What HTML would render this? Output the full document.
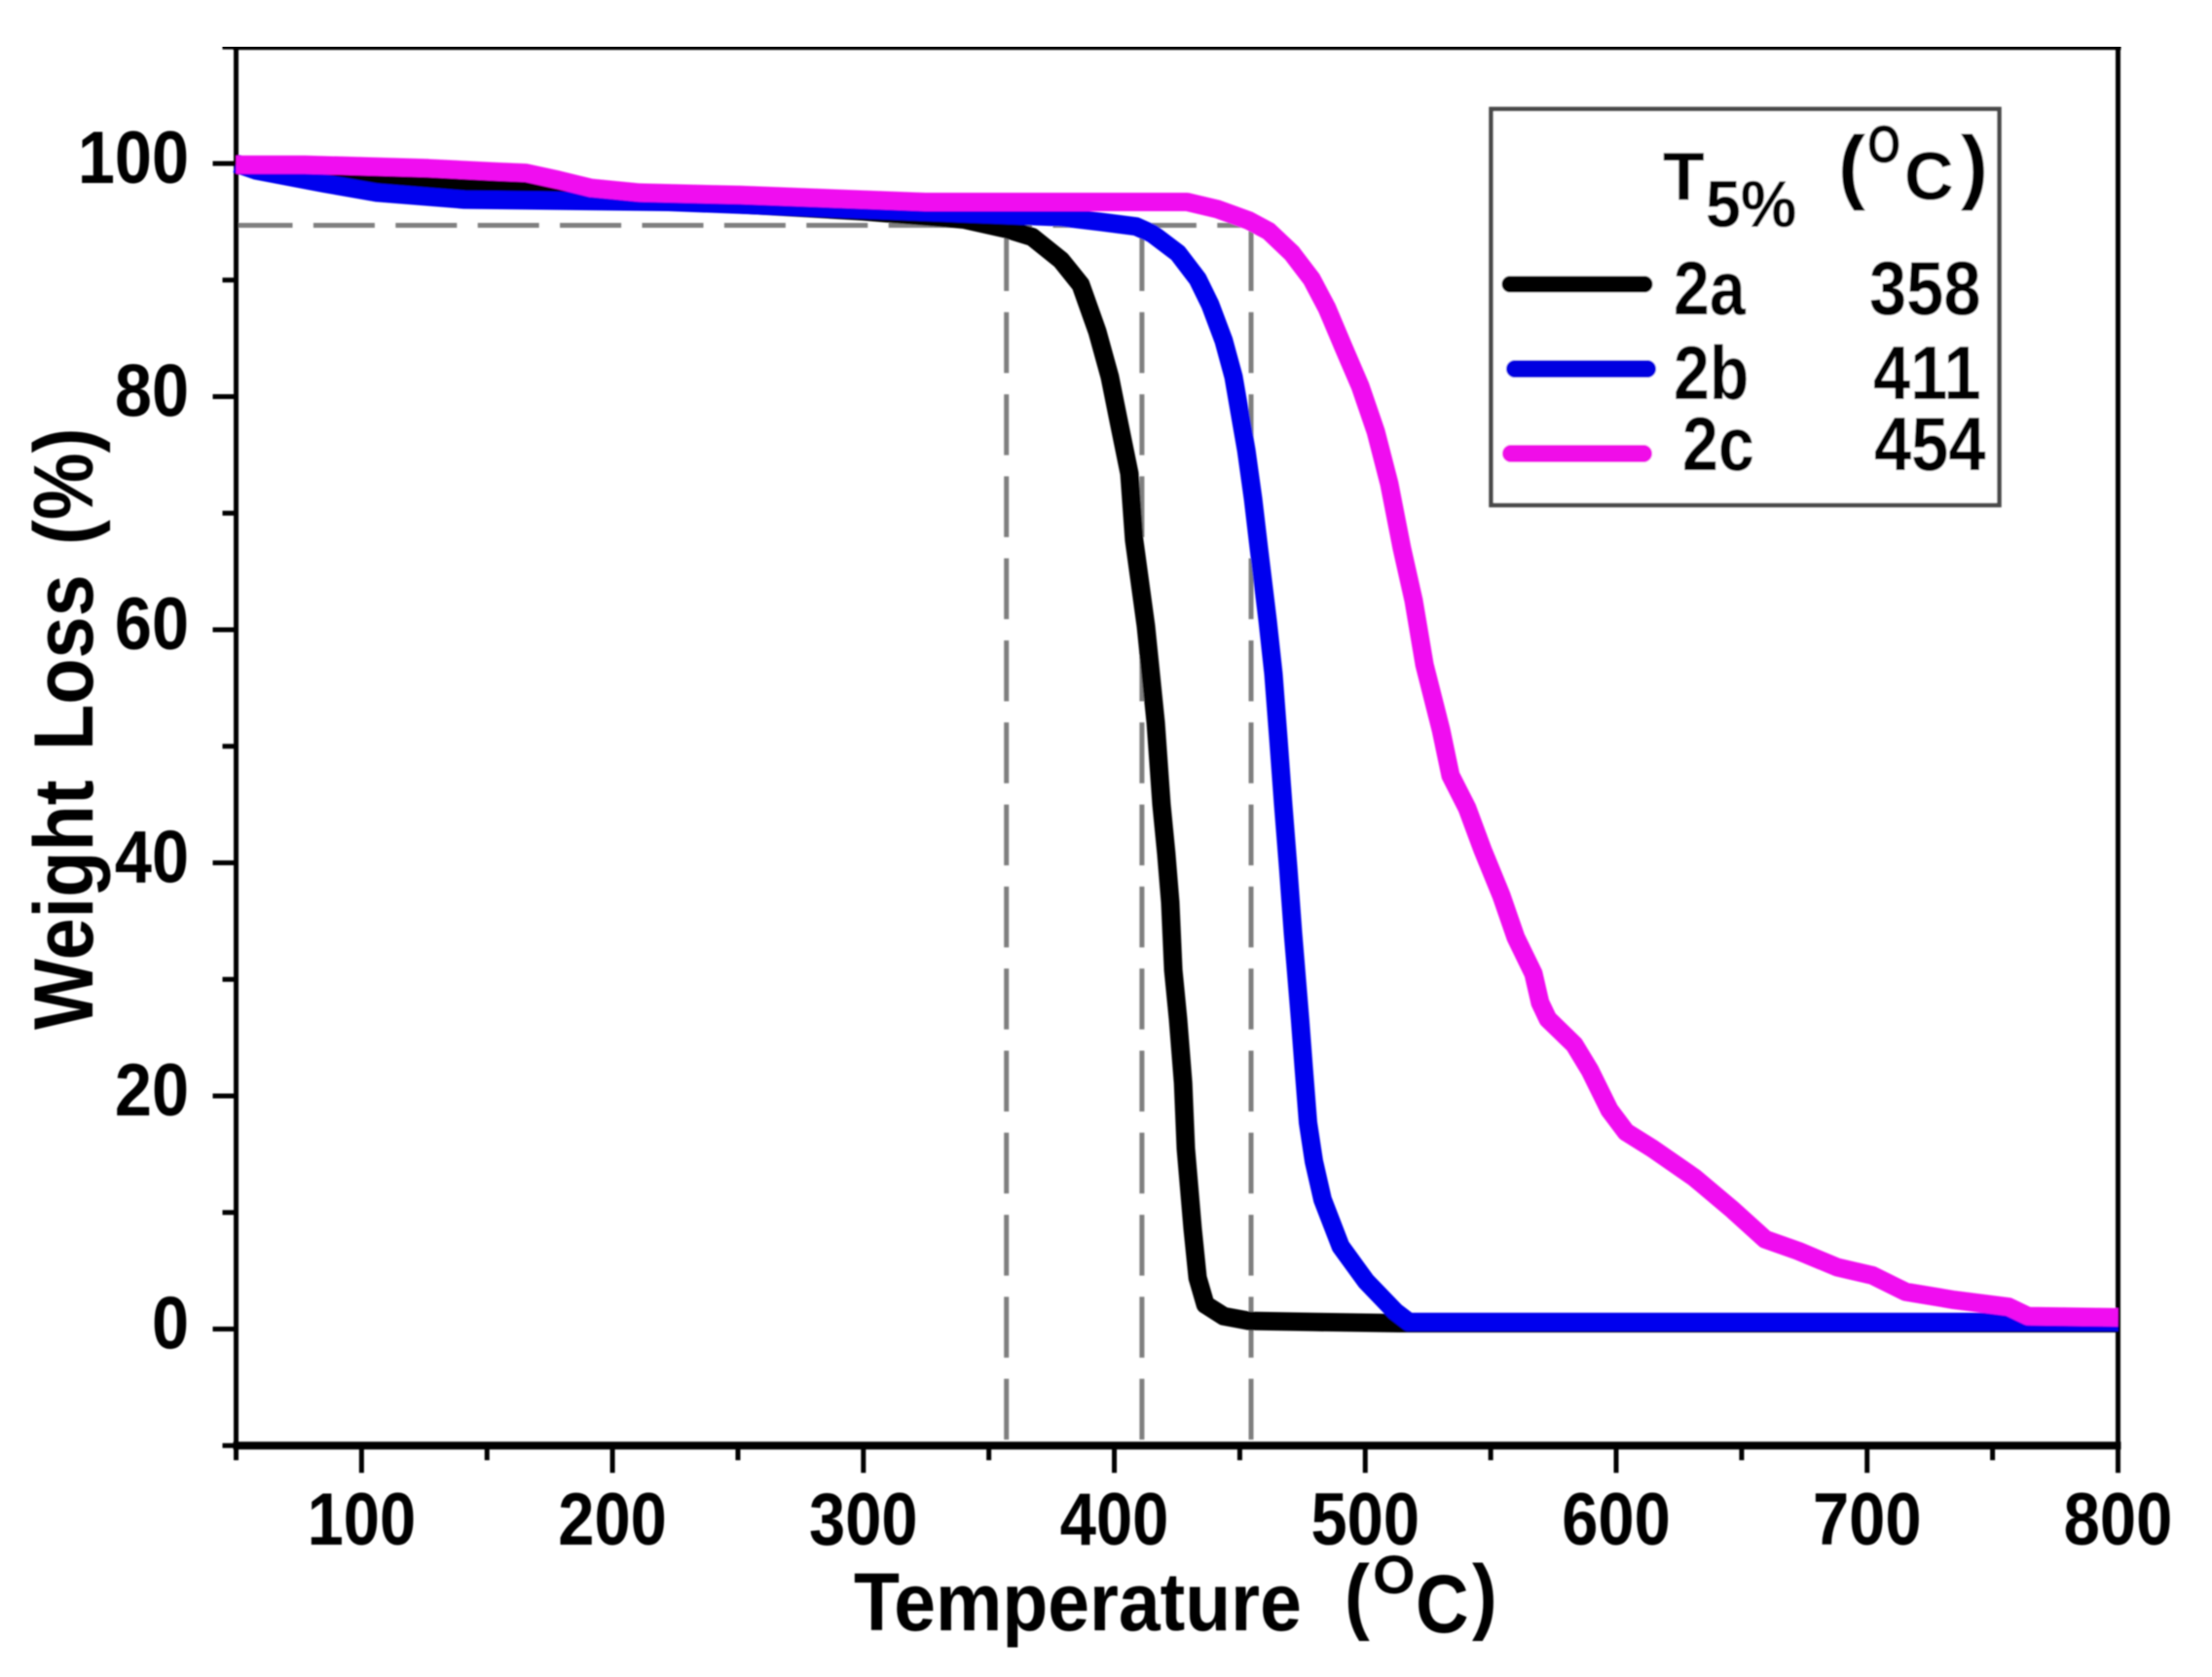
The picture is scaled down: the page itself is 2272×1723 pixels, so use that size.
<!DOCTYPE html>
<html lang="en">
<head>
<meta charset="utf-8">
<title>TGA weight loss chart</title>
<style>
html,body{margin:0;padding:0;background:#fff;width:2272px;height:1723px;overflow:hidden}
svg{display:block}
text{font-family:"Liberation Sans",sans-serif;font-weight:bold;fill:#000}
</style>
</head>
<body>
<svg id="chart" xmlns="http://www.w3.org/2000/svg" width="2272" height="1723" viewBox="0 0 2272 1723">
<defs><filter id="soft" x="0" y="0" width="100%" height="100%"><feGaussianBlur stdDeviation="0.8"/></filter></defs>
<rect width="2272" height="1723" fill="#fff"/>
<g id="root" filter="url(#soft)">
<g id="guides"></g>
<g id="axes"></g>
<g id="guidesOver"></g>
<g id="series"></g>
<g id="ticks"></g>

<text font-size="86" word-spacing="10" transform="translate(95,1058) rotate(-90) scale(.9,1)">Weight Loss (%)</text>

<g>
<text font-size="84" transform="translate(877,1675) scale(.915,1)">Temperature</text>
<text font-size="86" transform="translate(1381,1668) scale(.9,1)">(</text>
<text font-size="56" transform="translate(1410,1637)">O</text>
<text font-size="84" transform="translate(1454,1677) scale(.9,1)">C</text>
<text font-size="86" transform="translate(1512,1668) scale(.9,1)">)</text>
</g>

<g>
<rect x="1531.5" y="112" width="522" height="407" fill="#fff" stroke="#484848" stroke-width="4.5"/>
<text font-size="70" x="1708" y="205">T</text>
<text font-size="68" transform="translate(1752,233) scale(.95,1)">5%</text>
<text font-size="84" x="1888" y="199">(</text>
<text font-size="55" transform="translate(1918,167) scale(.8,1)">O</text>
<text font-size="70" x="1956" y="205">C</text>
<text font-size="84" x="2014" y="199">)</text>

<line x1="1551" y1="292" x2="1689" y2="292" stroke="#000" stroke-width="17" stroke-linecap="round"/>
<text font-size="78" transform="translate(1719,323) scale(.85,1)">2a</text>
<text font-size="78" transform="translate(1920,323) scale(.88,1)">358</text>

<line x1="1556" y1="379" x2="1692" y2="379" stroke="#0000e0" stroke-width="18" stroke-linecap="round"/>
<text font-size="78" transform="translate(1719,410) scale(.85,1)">2b</text>
<text font-size="78" transform="translate(1924,410) scale(.88,1)">411</text>

<line x1="1552" y1="466" x2="1688" y2="466" stroke="#f010e8" stroke-width="18" stroke-linecap="round"/>
<text font-size="78" transform="translate(1728,483) scale(.85,1)">2c</text>
<text font-size="78" transform="translate(1925,483) scale(.88,1)">454</text>
</g>
</g>
</svg>
<script>
var NS = 'http://www.w3.org/2000/svg';

var xMajorTicks = [100, 200, 300, 400, 500, 600, 700, 800];
var xMinorTicks = [50, 150, 250, 350, 450, 550, 650, 750];
var yMajorTicks = [0, 20, 40, 60, 80, 100];
var yMinorTicks = [-10, 10, 30, 50, 70, 90, 110];

var t5Temps = [357, 411, 454.5];
var t5Weight = 94.7;

var temp2a = [50, 100, 150, 200, 250, 300, 340, 356.7, 367.2, 378.8, 386.6, 393.2, 398.2, 402.1, 406, 407.9, 412.6, 416.5, 418.8, 420.7, 422.3, 423.5, 425.4, 427.4, 428.5, 431.2, 433.2, 436.3, 443.6, 453.7, 479.7, 513.5, 800];
var weight2a = [99.9, 98.6, 98.2, 97, 96.5, 95.9, 95.2, 94.4, 93.7, 91.7, 89.6, 85.6, 81.7, 77.5, 73.4, 67.7, 60.3, 52, 45, 40.8, 36.6, 30.8, 26.6, 21.1, 15.5, 8.6, 4.4, 2.1, 1.1, 0.7, 0.6, 0.5, 0.5];

var temp2b = [50, 58, 85, 106, 141, 222.5, 378.8, 394.4, 408.7, 415, 425.4, 433.2, 438.2, 443.6, 447.5, 449.9, 452.6, 455.3, 457.6, 461.1, 463.4, 465.4, 467.3, 469.3, 471.2, 472.2, 474, 475.5, 477.2, 479.5, 483, 490.2, 500.3, 511.9, 517.4, 800];
var weight2b = [100, 99.4, 98.3, 97.5, 96.9, 96.7, 95.4, 95, 94.6, 94, 92.3, 90.1, 87.9, 84.8, 81.7, 78.7, 75.4, 71.2, 67, 60.8, 56.2, 50.6, 45, 39.5, 33.9, 31.4, 26.6, 22.4, 17.7, 14.4, 11.1, 7.1, 4.1, 1.5, 0.6, 0.6];

var temp2c = [50, 77.4, 126.6, 153.8, 165.5, 178.3, 191.5, 210.9, 250.8, 324.5, 429, 440.9, 453.7, 461.5, 470.8, 478.6, 484.7, 491.4, 498, 504.2, 509.6, 514.6, 519.3, 523.6, 530.2, 534, 540.6, 546.8, 554.2, 560, 567, 569.7, 572.8, 583.3, 589.5, 597.3, 603.9, 614.4, 631.1, 646.6, 659.4, 672.6, 688.1, 702.1, 715.3, 734.7, 756.4, 764.2, 800];
var weight2c = [99.9, 99.9, 99.6, 99.3, 99.2, 98.6, 97.9, 97.5, 97.3, 96.7, 96.7, 96.1, 95.1, 94.2, 92.3, 90.1, 87.6, 84.2, 80.9, 77, 72.5, 67, 62.5, 57, 51.4, 47.5, 44.7, 41.1, 37.2, 33.6, 30.5, 28, 26.6, 24.4, 22.2, 18.8, 16.9, 15.5, 13, 10.2, 7.7, 6.7, 5.3, 4.6, 3.2, 2.5, 1.9, 1.1, 1];

function xScale(t) { return 242.5 + (t - 50) * 2.5773; }
function yScale(v) { return 1365.5 - v * 11.975; }

function make(tag, attrs, parent) {
  var el = document.createElementNS(NS, tag);
  for (var k in attrs) el.setAttribute(k, attrs[k]);
  parent.appendChild(el);
  return el;
}

var axes = document.getElementById('axes');
var ticks = document.getElementById('ticks');
var guides = document.getElementById('guides');
var guidesOver = document.getElementById('guidesOver');
var series = document.getElementById('series');

var L = xScale(50), R = xScale(800), T = yScale(110), B = yScale(-10);

var spineTop = make('line', {x1: L - 3, y1: T, x2: R + 3, y2: T, stroke: '#000', 'stroke-width': 6}, axes);


var spineBottom = make('line', {x1: L - 3, y1: B, x2: R + 3, y2: B, stroke: '#000', 'stroke-width': 8}, axes);


var spineLeft = make('line', {x1: L, y1: T, x2: L, y2: B, stroke: '#000', 'stroke-width': 5}, axes);


var spineRight = make('line', {x1: R, y1: T, x2: R, y2: B, stroke: '#000', 'stroke-width': 5}, axes);



xMajorTicks.forEach(function (t) {
  var tick = make('line', {x1: xScale(t), y1: B, x2: xScale(t), y2: B + 28, stroke: '#000', 'stroke-width': 5}, axes);
  
  
  var label = make('text', {'font-size': 76, 'text-anchor': 'middle', transform: 'translate(' + xScale(t) + ',1587) scale(.88,1)'}, ticks);
  label.textContent = String(t);
  
  
});
xMinorTicks.forEach(function (t) {
  var tick = make('line', {x1: xScale(t), y1: B, x2: xScale(t), y2: B + 15, stroke: '#000', 'stroke-width': 5}, axes);
  
  
});
yMajorTicks.forEach(function (v) {
  var tick = make('line', {x1: L - 24, y1: yScale(v), x2: L, y2: yScale(v), stroke: '#000', 'stroke-width': 5}, axes);
  
  
  var label = make('text', {'font-size': 76, 'text-anchor': 'end', transform: 'translate(194,' + (yScale(v) + 20) + ') scale(.9,1)'}, ticks);
  label.textContent = String(v);
  
  
});
yMinorTicks.forEach(function (v) {
  var tick = make('line', {x1: L - 14, y1: yScale(v), x2: L, y2: yScale(v), stroke: '#000', 'stroke-width': 5}, axes);
  
  
});

var hGuide = make('line', {x1: L, y1: yScale(t5Weight), x2: xScale(t5Temps[2]), y2: yScale(t5Weight), stroke: '#7f7f7f', 'stroke-width': 5, 'stroke-dasharray': '63 21.4', 'stroke-dashoffset': 5}, guides);


t5Temps.forEach(function (t) {
  var v = make('line', {x1: xScale(t), y1: yScale(t5Weight), x2: xScale(t), y2: B, stroke: '#7f7f7f', 'stroke-width': 5, 'stroke-dasharray': '62.5 21.8', 'stroke-dashoffset': -5}, guidesOver);
  
  
});

function linePath(ts, vs) {
  return ts.map(function (t, i) {
    return (i ? 'L' : 'M') + xScale(t).toFixed(1) + ' ' + yScale(vs[i]).toFixed(1);
  }).join(' ');
}
var curve2a = make('path', {d: linePath(temp2a, weight2a), fill: 'none', stroke: '#000', 'stroke-width': 19, 'stroke-linejoin': 'round'}, series);


var curve2b = make('path', {d: linePath(temp2b, weight2b), fill: 'none', stroke: '#0000ee', 'stroke-width': 19, 'stroke-linejoin': 'round'}, series);


var curve2c = make('path', {d: linePath(temp2c, weight2c), fill: 'none', stroke: '#f00cf0', 'stroke-width': 19, 'stroke-linejoin': 'round'}, series);


</script>
</body>
</html>
